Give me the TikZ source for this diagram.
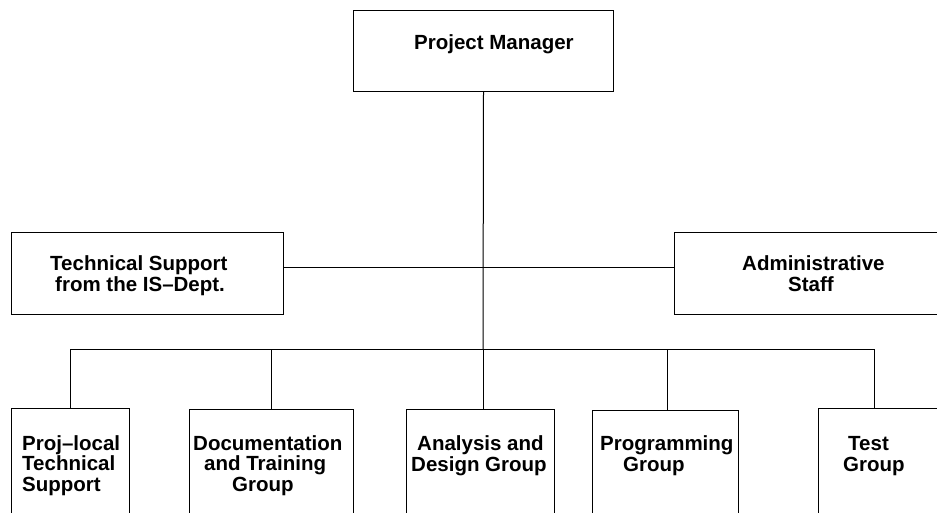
\documentclass[tikz,border=0pt]{standalone}
\usepackage{fontspec}
\setmainfont{Liberation Sans}
\begin{document}
\begin{tikzpicture}[x=1pt,y=-1pt,
  box/.style={draw=black, line width=1pt, inner sep=0pt, anchor=north west},
  lbl/.style={anchor=base west, align=left, inner sep=0pt, font=\fontsize{20.5}{20.5}\selectfont\bfseries},
  conn/.style={draw=black, line width=1pt}]
\useasboundingbox (0,0) rectangle (937,513);
\clip (0,0) rectangle (937,513);
% boxes
\node[box, minimum width=260pt, minimum height=81pt] (pm) at (353,10) {};
\node[box, minimum width=272pt, minimum height=82pt] (ts) at (11,232) {};
\node[box, minimum width=280pt, minimum height=82pt] (as) at (674,232) {};
\node[box, minimum width=118pt, minimum height=130pt] (b1) at (11,408) {};
\node[box, minimum width=164pt, minimum height=130pt] (b2) at (189,409) {};
\node[box, minimum width=148pt, minimum height=130pt] (b3) at (406,409) {};
\node[box, minimum width=146pt, minimum height=130pt] (b4) at (592,410) {};
\node[box, minimum width=140pt, minimum height=130pt] (b5) at (818,408) {};
% labels (base anchor = baseline of the last line)
\node[lbl] (tpm) at (414,50) {Project Manager};
\node[lbl] (tts) at (50,291) {Technical Support\\\hspace*{5pt}from the IS--Dept.};
\node[lbl] (tas) at (742,291) {Administrative\\\hspace*{46pt}Staff};
\node[lbl] (tb1) at (22,491) {Proj--local\\Technical\\Support};
\node[lbl] (tb2) at (193,491) {Documentation\\\hspace*{11pt}and Training\\\hspace*{39pt}Group};
\node[lbl] (tb3) at (411,471) {\hspace*{6pt}Analysis and\\Design Group};
\node[lbl] (tb4) at (600,471) {Programming\\\hspace*{23pt}Group};
\node[lbl] (tb5) at (843,471) {\hspace*{5pt}Test\\Group};
% connectors
\coordinate (mid) at (483,267);
\coordinate (bus) at (483,349);
\coordinate (d1) at (70,349);
\coordinate (d2) at (271,349);
\coordinate (d4) at (667,349);
\coordinate (d5) at (874,349);
\draw[conn] (pm.south) -- (bus);
\draw[conn] (mid -| ts.east) -- (mid -| as.west);
\draw[conn] (d1) -- (d5);
\draw[conn] (d1) -- (d1 |- b1.north);
\draw[conn] (d2) -- (d2 |- b2.north);
\draw[conn] (bus) -- (bus |- b3.north);
\draw[conn] (d4) -- (d4 |- b4.north);
\draw[conn] (d5) -- (d5 |- b5.north);
\end{tikzpicture}
\end{document}
